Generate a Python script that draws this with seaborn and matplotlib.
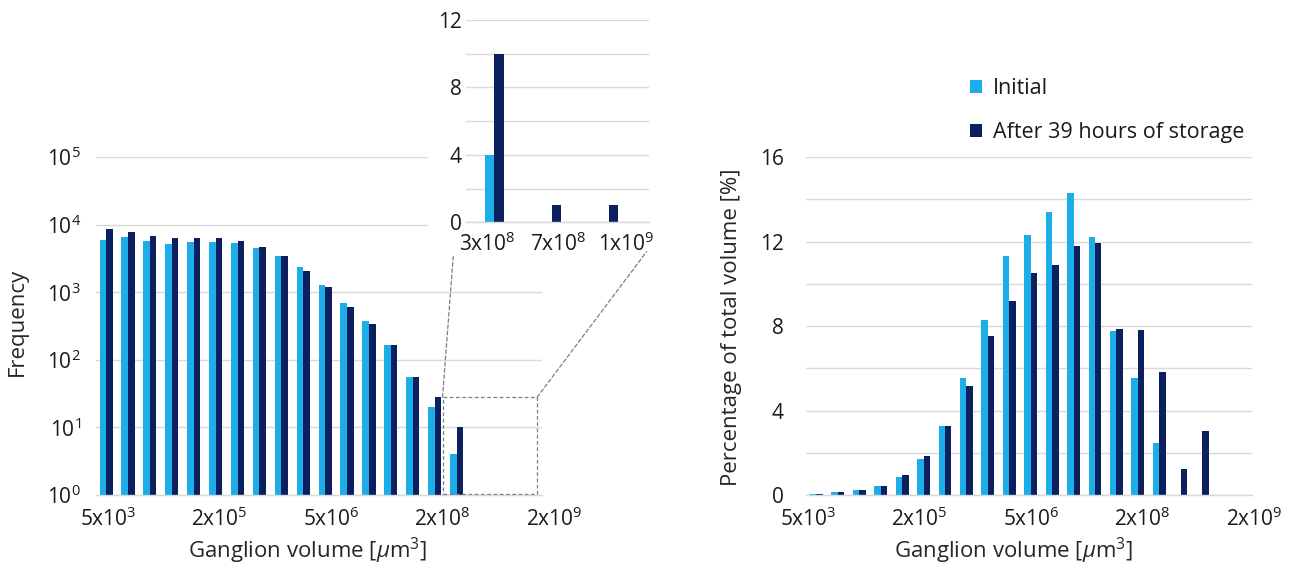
import numpy as np
import pandas as pd
import matplotlib
matplotlib.use("Agg")
import matplotlib.pyplot as plt
import seaborn as sns
from matplotlib.patches import Rectangle, ConnectionPatch, Patch
from matplotlib.ticker import FixedLocator, NullFormatter
from matplotlib.transforms import ScaledTranslation

# ---- data -------------------------------------------------------------
bins = ["5x10^3", "1x10^4", "2x10^4", "4x10^4", "8x10^4", "2x10^5", "3x10^5",
        "6x10^5", "1x10^6", "3x10^6", "5x10^6", "1x10^7", "2x10^7", "4x10^7",
        "8x10^7", "2x10^8", "3x10^8", "7x10^8", "1x10^9"]
series = ["Initial", "After 39 hours of storage"]

freq_initial = [6000, 6560, 5790, 5230, 5470, 5600, 5350, 4510, 3390, 2330,
                1260, 691, 374, 165, 56, 20, 4, 0, 0]
freq_stored = [8630, 7880, 6720, 6420, 6420, 6420, 5790, 4610, 3390, 2060,
               1180, 610, 338, 165, 56, 28, 10, 1, 1]

pct_initial = [0.07, 0.13, 0.22, 0.41, 0.84, 1.72, 3.26, 5.55, 8.29, 11.3,
               12.3, 13.4, 14.3, 12.2, 7.77, 5.53, 2.44, 0, 0]
pct_stored = [0.07, 0.14, 0.24, 0.44, 0.93, 1.84, 3.26, 5.15, 7.53, 9.2,
              10.5, 10.9, 11.8, 11.95, 7.88, 7.82, 5.80, 1.21, 3.04]

volume_ticks = ["5x10$^3$", "2x10$^5$", "5x10$^6$", "2x10$^8$", "2x10$^9$"]
zoom_bins = bins[16:]
zoom_ticks = ["3x10$^8$", "7x10$^8$", "1x10$^9$"]

freq_ticks = [1, 10, 100, 1000, 10000, 100000]
freq_tick_labels = ["10$^0$", "10$^1$", "10$^2$", "10$^3$", "10$^4$", "10$^5$"]

# ---- style ------------------------------------------------------------
sns.set_style("white")
plt.rcParams["font.family"] = ["Open Sans", "DejaVu Sans"]
plt.rcParams["mathtext.fontset"] = "custom"
plt.rcParams["mathtext.rm"] = "Open Sans"
plt.rcParams["mathtext.it"] = "Open Sans:italic"
plt.rcParams["mathtext.bf"] = "Open Sans:bold"
plt.rcParams["text.color"] = "#1A1A1A"

LIGHT = "#1DADE8"
DARK = "#0C1F5E"
GRID = "#D9D9D9"
TICK_FS = 15
LABEL_FS = 16
LEGEND_FS = 15.5

palette = [LIGHT, DARK]

n = len(bins)
df_freq = pd.DataFrame({
    "bin": bins * 2,
    "series": [series[0]] * n + [series[1]] * n,
    "value": freq_initial + freq_stored,
})
df_pct = pd.DataFrame({
    "bin": bins * 2,
    "series": [series[0]] * n + [series[1]] * n,
    "value": pct_initial + pct_stored,
})
df_zoom = df_freq[df_freq["bin"].isin(zoom_bins)]

fig = plt.figure(figsize=(12.94, 5.65), dpi=100)
ax_f = fig.add_axes([0.07419, 0.12389, 0.34467, 0.59823])
ax_p = fig.add_axes([0.62287, 0.12389, 0.34467, 0.59823])
ax_z = fig.add_axes([0.36012, 0.60655, 0.14142, 0.35805], zorder=3)


def clean(ax):
    for side in ("top", "right", "left"):
        ax.spines[side].set_visible(False)
    ax.spines["bottom"].set_color(GRID)
    ax.spines["bottom"].set_linewidth(1.0)
    ax.tick_params(axis="both", which="both", length=0, labelsize=TICK_FS,
                   colors="#1A1A1A")
    ax.set_axisbelow(True)


def shift_labels(ax, dx_px):
    off = ScaledTranslation(dx_px / 100.0, 0, fig.dpi_scale_trans)
    for lbl in ax.get_xticklabels():
        lbl.set_transform(lbl.get_transform() + off)


# ---- frequency (log) --------------------------------------------------
sns.barplot(data=df_freq, x="bin", y="value", hue="series", order=bins,
            hue_order=series, palette=palette, saturation=1, width=0.6,
            linewidth=0, legend=False, ax=ax_f)
ax_f.set_yscale("log", nonpositive="clip")
ax_f.set_ylim(1, 1e5)
lo, hi = -0.46, 19.9
ax_f.set_xlim(lo, hi)
clean(ax_f)
ax_f.yaxis.set_major_locator(FixedLocator(freq_ticks))
ax_f.set_yticklabels(freq_tick_labels)
ax_f.yaxis.set_minor_locator(FixedLocator([]))
ax_f.yaxis.grid(True, which="major", color=GRID, lw=1.0)
ax_f.set_xticks(np.linspace(lo, hi, 5))
ax_f.set_xticklabels(volume_ticks)
ax_f.tick_params(axis="x", pad=9)
ax_f.tick_params(axis="y", pad=11)
shift_labels(ax_f, 12)
ax_f.set_xlabel("Ganglion volume [$\\mu$m$^3$]", fontsize=LABEL_FS)
ax_f.xaxis.set_label_coords(0.475, -0.122)
ax_f.set_ylabel("Frequency", fontsize=LABEL_FS, va="center")
ax_f.yaxis.set_label_coords(-0.176, 0.512)

# zoom window around the largest bins
box = Rectangle((15.36, 1.05), 19.68 - 15.36, 28 - 1.05, fill=False,
                ec="#7F7F7F", lw=0.9, ls=(0, (3, 2)), zorder=4)
ax_f.add_patch(box)

# ---- percentage of total volume --------------------------------------
sns.barplot(data=df_pct, x="bin", y="value", hue="series", order=bins,
            hue_order=series, palette=palette, saturation=1, width=0.6,
            linewidth=0, legend=False, ax=ax_p)
ax_p.set_ylim(0, 16)
lo2, hi2 = -0.49, 20.33
ax_p.set_xlim(lo2, hi2)
clean(ax_p)
ax_p.yaxis.set_major_locator(FixedLocator([0, 4, 8, 12, 16]))
ax_p.yaxis.set_minor_locator(FixedLocator([2, 6, 10, 14]))
ax_p.yaxis.set_minor_formatter(NullFormatter())
ax_p.yaxis.grid(True, which="both", color=GRID, lw=1.0)
ax_p.set_xticks(np.linspace(lo2, hi2, 5))
ax_p.set_xticklabels(volume_ticks)
ax_p.tick_params(axis="x", pad=9)
ax_p.tick_params(axis="y", pad=16)
shift_labels(ax_p, 2)
ax_p.set_xlabel("Ganglion volume [$\\mu$m$^3$]", fontsize=LABEL_FS)
ax_p.xaxis.set_label_coords(0.466, -0.122)
ax_p.set_ylabel("Percentage of total volume [%]", fontsize=LABEL_FS, va="center")
ax_p.yaxis.set_label_coords(-0.166, 0.497)

handles = [Patch(facecolor=LIGHT, edgecolor="none"),
           Patch(facecolor=DARK, edgecolor="none")]
fig.legend(handles, series, loc="upper left", bbox_to_anchor=(0.7496, 0.862),
           frameon=False, fontsize=LEGEND_FS, handlelength=0.55,
           handleheight=0.55, handletextpad=0.5, labelspacing=1.08,
           borderpad=0, borderaxespad=0)

# ---- inset: linear close-up ------------------------------------------
fig.add_artist(Rectangle((0.331, 0.5628), 0.181, 0.4372, transform=fig.transFigure,
                         facecolor="white", edgecolor="none", zorder=2))
sns.barplot(data=df_zoom, x="bin", y="value", hue="series", order=zoom_bins,
            hue_order=series, palette=palette, saturation=1, width=0.33,
            linewidth=0, legend=False, ax=ax_z)
ax_z.set_ylim(0, 12)
zlo, zhi = -0.5, 2.71
ax_z.set_xlim(zlo, zhi)
clean(ax_z)
ax_z.patch.set_alpha(0)
ax_z.yaxis.set_major_locator(FixedLocator([0, 4, 8, 12]))
ax_z.yaxis.set_minor_locator(FixedLocator([2, 6, 10]))
ax_z.yaxis.set_minor_formatter(NullFormatter())
ax_z.yaxis.grid(True, which="both", color=GRID, lw=1.0)
ax_z.set_xticks([zlo + f * (zhi - zlo) for f in (0.115, 0.503, 0.874)])
ax_z.set_xticklabels(zoom_ticks)
ax_z.tick_params(axis="x", pad=7)
ax_z.tick_params(axis="y", pad=3)
ax_z.set_xlabel("")
ax_z.set_ylabel("")

# dashed leaders from the zoom window to the close-up
for xa, ya, xb, yb in [(15.36, 28, -0.07, -0.17), (19.68, 28, 0.987, -0.145)]:
    con = ConnectionPatch(xyA=(xa, ya), coordsA=ax_f.transData,
                          xyB=(xb, yb), coordsB=ax_z.transAxes,
                          color="#7F7F7F", lw=0.9, ls=(0, (3, 2)), zorder=5)
    fig.add_artist(con)

fig.savefig("out.png", dpi=100)
